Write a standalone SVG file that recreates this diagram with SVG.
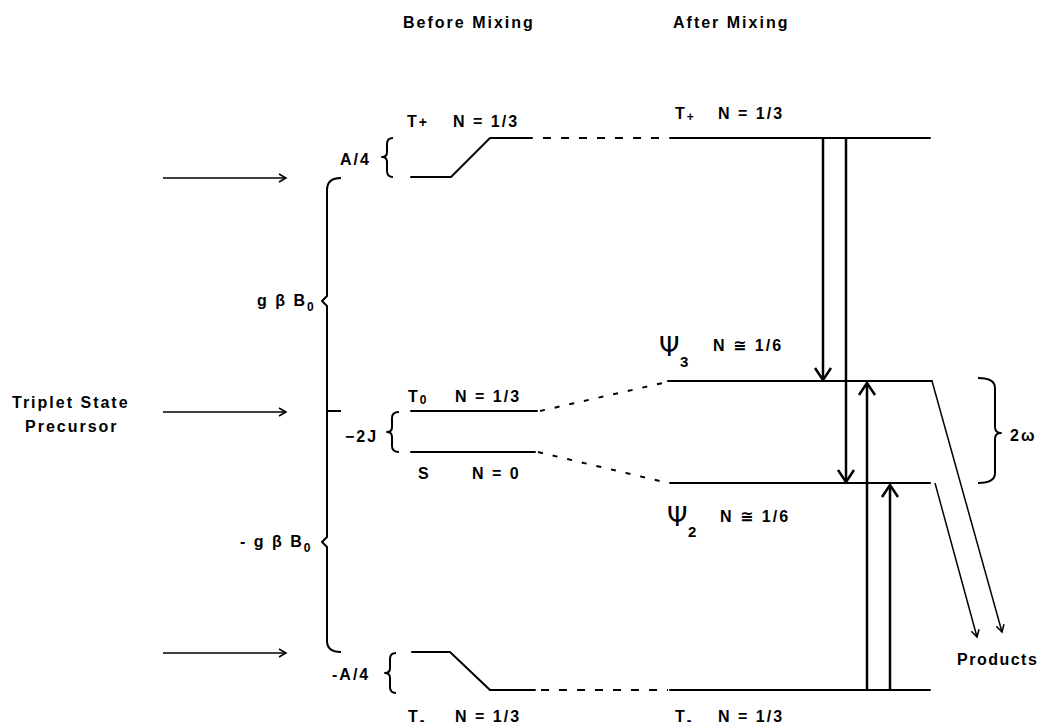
<svg xmlns="http://www.w3.org/2000/svg" width="1042" height="728" viewBox="0 0 1042 728">
<style>
  text { font-family: "Liberation Sans", Arial, "DejaVu Sans", sans-serif; font-weight: bold; font-size: 16px; letter-spacing: 2px; fill: #000; }
  .psi { font-family: "DejaVu Sans", sans-serif; font-size: 26px; font-weight: normal; letter-spacing: 0; }
  .sub { font-size: 12px; letter-spacing: 0; }
  .lvl { stroke: #000; stroke-width: 2; fill: none; stroke-linecap: round; stroke-linejoin: round; }
  .dash { stroke: #000; stroke-width: 2; fill: none; stroke-dasharray: 8 10; }
  .dot { stroke: #000; stroke-width: 2; fill: none; stroke-dasharray: 5 10; }
  .brace { stroke: #000; stroke-width: 2; fill: none; stroke-linejoin: round; }
  .big { stroke: #000; stroke-width: 2.5; fill: none; }
  .thin { stroke: #000; stroke-width: 1.5; fill: none; }
</style>
<defs>
  <marker id="hb" markerUnits="userSpaceOnUse" markerWidth="20" markerHeight="20" refX="12" refY="8" orient="auto" overflow="visible">
    <path d="M0,0 L12,8 L0,16" stroke="#000" stroke-width="2.5" fill="none"/>
  </marker>
  <marker id="hs" markerUnits="userSpaceOnUse" markerWidth="10" markerHeight="10" refX="7" refY="4" orient="auto" overflow="visible">
    <path d="M0,0 L7,4 L0,8" stroke="#000" stroke-width="1.5" fill="none"/>
  </marker>
</defs>

<g id="headers">
  <text x="403" y="28">Before Mixing</text>
  <text x="673" y="28">After Mixing</text>
</g>

<g id="precursor">
  <text x="12" y="408">Triplet State</text>
  <text x="25" y="432">Precursor</text>
</g>

<g id="bigbrace">
  <path class="brace" d="M341,178 Q327,178 327,190 L327,296 L322,301 L327,306 L327,537 L322,542 L327,547 L327,641 Q327,652 341,652"/>
  <path class="brace" d="M327,411 L341,411"/>
  <text x="257" y="306">g β B<tspan class="sub" dy="5">0</tspan></text>
  <text x="240" y="547">- g β B<tspan class="sub" dy="5">0</tspan></text>
</g>

<g id="Tplus-before">
  <polyline class="lvl" points="411,177 451,177 490,138 532,138"/>
  <path class="brace" d="M393,138 Q387,138 387,144 L387,152 Q387,157 382,157 Q387,157 387,162 L387,171 Q387,177 393,177"/>
  <text x="340" y="165">A/4</text>
  <text x="407" y="127">T<tspan font-size="14">+</tspan></text>
  <text x="453" y="127">N = 1/3</text>
</g>

<g id="T0-before">
  <line class="lvl" x1="411" y1="411" x2="537" y2="411"/>
  <text x="408" y="402">T<tspan class="sub" dy="2">0</tspan></text>
  <text x="455" y="402">N = 1/3</text>
</g>

<g id="S-before">
  <line class="lvl" x1="411" y1="452" x2="535" y2="452"/>
  <path class="brace" d="M399,412 Q392,412 392,418 L392,427 Q392,432 387,432 Q392,432 392,437 L392,446 Q392,452 399,452"/>
  <text x="345" y="442">−2J</text>
  <text x="418" y="479">S</text>
  <text x="472" y="479">N = 0</text>
</g>

<g id="Tminus-before">
  <polyline class="lvl" points="412,652 450,652 490,690 535,690"/>
  <path class="brace" d="M396,653 Q390,653 390,659 L390,668 Q390,673 385,673 Q390,673 390,678 L390,687 Q390,693 396,693"/>
  <text x="332" y="680">-A/4</text>
  <text x="408" y="722">T<tspan font-size="14" dy="3">-</tspan></text>
  <text x="455" y="722">N = 1/3</text>
</g>

<g id="Tplus-after">
  <line class="lvl" x1="670" y1="138" x2="930" y2="138"/>
  <text x="675" y="119">T<tspan class="sub" dy="2">+</tspan></text>
  <text x="718" y="119">N = 1/3</text>
</g>

<g id="psi3">
  <line class="lvl" x1="668" y1="381" x2="932" y2="381"/>
  <text class="psi" x="659" y="356">Ψ</text>
  <text class="sub" x="680" y="367" style="font-size:15px">3</text>
  <text x="713" y="351">N ≅  1/6</text>
</g>

<g id="psi2">
  <line class="lvl" x1="670" y1="483" x2="930" y2="483"/>
  <text class="psi" x="667" y="526">Ψ</text>
  <text class="sub" x="688" y="537" style="font-size:15px">2</text>
  <text x="720" y="522">N ≅  1/6</text>
</g>

<g id="Tminus-after">
  <line class="lvl" x1="670" y1="690" x2="930" y2="690"/>
  <text x="675" y="722">T<tspan font-size="14" dy="3">-</tspan></text>
  <text x="718" y="722">N = 1/3</text>
</g>

<g id="omega">
  <path class="brace" d="M978,378 Q995,378 995,388 L995,427 Q995,433 1001,433 Q995,433 995,439 L995,473 Q995,483 978,483"/>
  <text x="1010" y="441">2ω</text>
</g>

<g id="products">
  <text x="957" y="665" style="letter-spacing:1.5px">Products</text>
</g>

<g id="connectors">
  <line class="thin" x1="163" y1="178" x2="286" y2="178" marker-end="url(#hs)"/>
  <line class="thin" x1="163" y1="412" x2="286" y2="412" marker-end="url(#hs)"/>
  <line class="thin" x1="163" y1="653" x2="286" y2="653" marker-end="url(#hs)"/>
  <line class="dash" x1="543" y1="138" x2="668" y2="138"/>
  <line class="dash" x1="541" y1="690" x2="668" y2="690"/>
  <line class="dot" x1="540" y1="411" x2="667" y2="382"/>
  <line class="dot" x1="538" y1="452" x2="668" y2="483"/>
  <line class="big" x1="823" y1="139" x2="823" y2="380" marker-end="url(#hb)"/>
  <line class="big" x1="846" y1="139" x2="846" y2="482" marker-end="url(#hb)"/>
  <line class="big" x1="867" y1="690" x2="867" y2="383" marker-end="url(#hb)"/>
  <line class="big" x1="890" y1="690" x2="890" y2="485" marker-end="url(#hb)"/>
  <line class="thin" x1="932" y1="381" x2="1002" y2="632" marker-end="url(#hs)"/>
  <line class="thin" x1="935" y1="483" x2="977" y2="637" marker-end="url(#hs)"/>
</g>
</svg>
